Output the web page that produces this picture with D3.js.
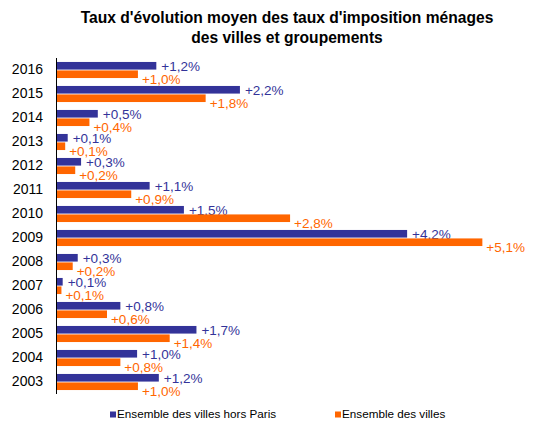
<!DOCTYPE html>
<html><head><meta charset="utf-8">
<script src="https://cdn.jsdelivr.net/npm/d3@7"></script>
<style>body{margin:0;background:#fff;}svg{display:block;font-family:"Liberation Sans",Arial,sans-serif;}</style>
</head><body>
<svg id="c" width="534" height="421"></svg>
<script>
const years = ["2016","2015","2014","2013","2012","2011","2010","2009","2008","2007","2006","2005","2004","2003"];
const horsParis = [1.2,2.2,0.5,0.14,0.3,1.12,1.53,4.2,0.26,0.08,0.77,1.68,0.97,1.23];
const ensemble = [0.98,1.79,0.4,0.11,0.23,0.9,2.8,5.1,0.2,0.065,0.61,1.36,0.77,0.98];
const seriesNames = ["Ensemble des villes hors Paris","Ensemble des villes"];
const colors = ["#333399","#FF6600"];

const svg = d3.select("#c");
const x = d3.scaleLinear().domain([0,1]).range([56,56+83.6]);
const y = d3.scaleBand().domain(years).range([58,394]).paddingInner(0.33).paddingOuter(0.165);
const inner = d3.scaleBand().domain([0,1]).range([0,y.bandwidth()]).paddingInner(0.1);
const fmt = v => "+" + d3.format(".1f")(v).replace(".", ",") + "%";

svg.append("text").attr("x",287).attr("y",23).attr("text-anchor","middle")
  .attr("font-size",15.6).attr("font-weight","bold").attr("fill","#000")
  .text("Taux d'évolution moyen des taux d'imposition ménages");
svg.append("text").attr("x",287).attr("y",43).attr("text-anchor","middle")
  .attr("font-size",15.6).attr("font-weight","bold").attr("fill","#000")
  .text("des villes et groupements");

const data = [horsParis, ensemble];
data.forEach((vals,s) => {
  const g = svg.append("g");
  g.selectAll("rect").data(years).join("rect")
    .attr("x",x(0)).attr("y",(d)=>y(d)+inner(s))
    .attr("width",(d,i)=>x(vals[i])-x(0)).attr("height",inner.bandwidth())
    .attr("fill",colors[s]);
  g.selectAll("text").data(years).join("text")
    .attr("x",(d,i)=>x(vals[i])+(s===0?5:4))
    .attr("y",(d)=>y(d)+inner(s)+inner.bandwidth()/2+(s===0?1:5))
    .attr("dy","0.35em")
    .attr("font-size",13.5).attr("fill",colors[s])
    .text((d,i)=>fmt(vals[i]));
});

const yAxis = d3.axisLeft(y).tickSize(0).tickPadding(13);
const ga = svg.append("g").attr("transform","translate(56,0)").call(yAxis);
ga.select(".domain").attr("stroke","#000").attr("d","M0.5,58V394");
ga.selectAll("text").attr("font-size",14).attr("fill","#000").attr("font-family","Liberation Sans, Arial, sans-serif");

const leg = [{x:110,t:seriesNames[0],c:colors[0]},{x:335,t:seriesNames[1],c:colors[1]}];
leg.forEach(l=>{
  svg.append("rect").attr("x",l.x).attr("y",411.5).attr("width",6).attr("height",6).attr("fill",l.c);
  svg.append("text").attr("x",l.x+7).attr("y",418).attr("font-size",11.7).attr("fill","#000").text(l.t);
});
</script>
</body></html>
